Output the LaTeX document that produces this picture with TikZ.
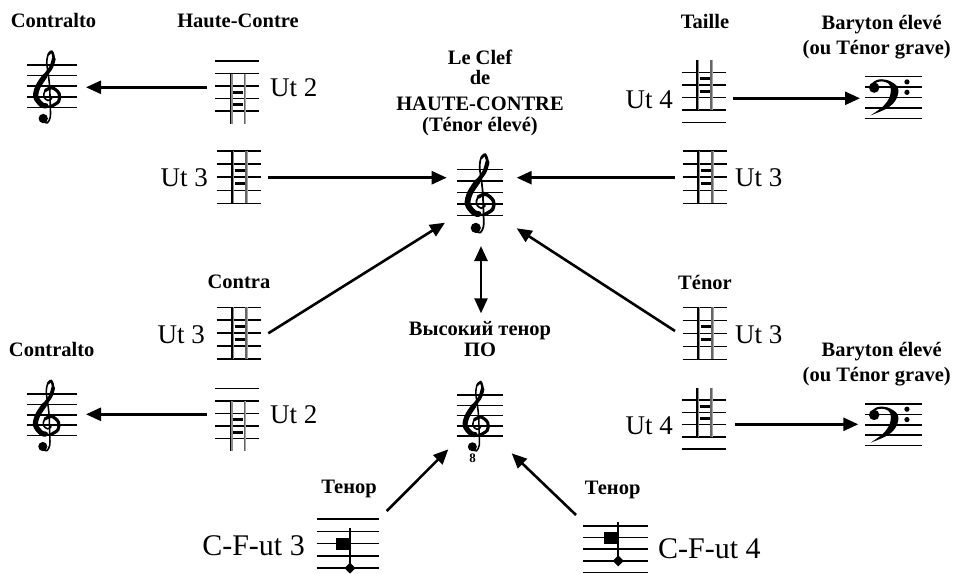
\documentclass[tikz,border=0pt]{standalone}
\usepackage{fontspec}
\setmainfont{Liberation Serif}
\usetikzlibrary{arrows.meta}

\tikzset{
  stl/.style={line width=1.5pt},
  arr/.style={line width=2.6pt, -{Triangle[length=15pt,width=13pt]}},
  darr/.style={line width=2.6pt, {Triangle[length=15pt,width=13pt]}-{Triangle[length=15pt,width=13pt]}},
  lab/.style={font=\fontsize{20.5}{24}\selectfont\bfseries, inner sep=0pt, anchor=base},
  ttl/.style={font=\fontsize{20.5}{24}\selectfont\bfseries, inner sep=0pt, anchor=base},
  ut/.style={font=\fontsize{27}{30}\selectfont, inner sep=0pt},
  cfut/.style={font=\fontsize{30}{33}\selectfont, inner sep=0pt},
}

% five staff lines: x0, x1, ytop, spacing
\newcommand{\fivelines}[4]{%
  \foreach \i in {0,...,4} \draw[stl] (#1,{#3+\i*#4}) -- (#2,{#3+\i*#4});}

% C clef ladder staff: x0, ytop, spacing, index of C line (from top, 0-based)
\newcommand{\ladder}[4]{%
  \pgfmathsetmacro\lyc{#2+#4*#3}%
  \fivelines{#1}{{#1+44}}{#2}{#3}%
  \draw[line width=1.3pt] ({#1+15.3},{\lyc-2*#3}) -- ({#1+15.3},{\lyc+2*#3});
  \draw[line width=1.2pt, black!45] ({#1+16.9},{\lyc-2*#3}) -- ({#1+16.9},{\lyc+2*#3});
  \draw[line width=1.2pt, black!60] ({#1+29.2},{\lyc-2*#3}) -- ({#1+29.2},{\lyc+2*#3});
  \draw[line width=1.0pt, black!35] ({#1+30.7},{\lyc-2*#3}) -- ({#1+30.7},{\lyc+2*#3});
  \draw[line width=3pt] ({#1+17.8},{\lyc-0.5*#3}) -- ({#1+28},{\lyc-0.5*#3});
  \draw[line width=3pt] ({#1+17.8},{\lyc+0.5*#3}) -- ({#1+28},{\lyc+0.5*#3});
}

% C-F-ut staff: x0, x1, ytop, spacing, C index, F index, stem x
\newcommand{\cfstaff}[7]{%
  \fivelines{#1}{#2}{#3}{#4}%
  \pgfmathsetmacro\lyc{#3+#5*#4}%
  \pgfmathsetmacro\lyf{#3+#6*#4}%
  \fill ({#7-14},{\lyc-6}) rectangle (#7,{\lyc+6});
  \draw[line width=1.7pt] (#7,{\lyc-15.5}) -- (#7,\lyf);
  \fill (#7,{\lyf-5.5}) -- ({#7+5.5},\lyf) -- (#7,{\lyf+5.5}) -- ({#7-5.5},\lyf) -- cycle;
}

% treble clef: x, y of G line, spacing
\newcommand{\gclef}[3]{%
  \begin{scope}[shift={(#1,#2)}, x=#3pt, y=#3pt, line cap=round]
    \draw[line width={0.15*#3pt}] plot[smooth, tension=0.55] coordinates {
      (0.35,-0.15) (0.0,-0.35) (-0.4,0.0) (-0.25,0.6) (0.4,0.85) (1.05,0.3) (1.0,-0.45)
      (0.3,-0.9) (-0.6,-0.75) (-1.15,0.0) (-0.95,0.95) (-0.3,1.95) (0.3,2.8) (0.55,3.6)
      (0.35,4.25) (0.0,3.95) (-0.12,3.2) (0.0,2.3) (0.15,1.0) (0.22,-1.0) (0.22,-1.9)
      (-0.05,-2.45) (-0.5,-2.3)};
    \draw[line width={0.3*#3pt}] plot[smooth, tension=0.55] coordinates {
      (-0.25,0.6) (0.4,0.85) (1.05,0.3) (1.0,-0.45) (0.3,-0.9)};
    \draw[line width={0.5*#3pt}] plot[smooth, tension=0.55] coordinates {
      (-0.2,-0.85) (-0.6,-0.75) (-1.15,0.0) (-0.95,0.95) (-0.3,1.95)};
    \draw[line width={0.36*#3pt}] plot[smooth, tension=0.55] coordinates {
      (-0.95,0.95) (-0.3,1.95) (0.3,2.8) (0.55,3.6)};
    \draw[line width={0.24*#3pt}] plot[smooth, tension=0.55] coordinates {
      (0.3,2.8) (0.55,3.6) (0.35,4.25) (0.05,4.0)};
    \fill (-0.45,-2.05) circle (0.44);
  \end{scope}}

% bass clef: x of head, y of F line, spacing
\newcommand{\fclef}[3]{%
  \begin{scope}[shift={(#1,#2)}, x=#3pt, y=#3pt]
    \fill (0.45,-0.05) circle (0.5);
    \fill plot[smooth, tension=0.6] coordinates {
      (0.0,0.15) (0.7,0.68) (1.7,0.68) (2.7,0.0) (2.6,-1.1) (1.75,-2.0) (0.1,-2.72)}
      -- plot[smooth, tension=0.6] coordinates {
      (0.1,-2.72) (1.3,-1.85) (1.95,-0.9) (2.0,0.1) (1.5,0.5) (0.8,0.5) (0.2,0.1)} -- cycle;
    \fill (3.6,0.5) circle (0.25);
    \fill (3.6,-0.5) circle (0.25);
  \end{scope}}

\begin{document}
\begin{tikzpicture}[x=1pt, y=-1pt]
\useasboundingbox (0,0) rectangle (953,573);
\fill[white] (0,0) rectangle (953,573);

% ---------- treble and bass clef staves ----------
\fivelines{27}{77}{65}{10.6}
\gclef{48}{96.8}{10.6}
\fivelines{26.7}{76.7}{394}{10.4}
\gclef{47.5}{425.2}{10.4}
\fivelines{457}{503}{169.3}{11.6}
\gclef{481}{204.1}{11.6}
\fivelines{456.7}{503.3}{395}{10.25}
\gclef{477}{425.75}{10.25}
\node[font=\fontsize{13}{13}\selectfont\bfseries, inner sep=0pt] (eight) at (472.5,458) {8};
\fivelines{865}{921.7}{76.7}{10.4}
\fclef{869.5}{87.1}{10.4}
\fivelines{865}{921.7}{404}{10.4}
\fclef{869.5}{414.4}{10.4}

% ---------- C clef ladders ----------
\ladder{215}{61}{12.5}{3}
\ladder{216.7}{151}{13.1}{2}
\ladder{682.7}{151}{13.1}{2}
\ladder{681.7}{72.3}{12.6}{1}
\ladder{216.7}{307.3}{12.9}{2}
\ladder{215}{388.3}{12.5}{3}
\ladder{682.7}{307.3}{13}{2}
\ladder{681.7}{400}{12.3}{1}

% ---------- C-F-ut staves ----------
\cfstaff{316.7}{379}{519}{12.3}{2}{4}{350}
\cfstaff{583.3}{648.3}{526}{11.6}{1}{3}{618.3}

% ---------- labels ----------
\node[lab] (lcontraltoA) at (53.5,27.7) {Contralto};
\node[lab] (lhc) at (238,27.7) {Haute-Contre};
\node[lab] (ltaille) at (705,28.3) {Taille};
\node[lab] (lbarA) at (881.7,29.3) {Baryton élevé};
\node[lab] (louA) at (876.7,54) {(ou Ténor grave)};
\node[ttl] (t1) at (480,64) {Le Clef};
\node[ttl] (t2) at (480,84.5) {de};
\node[ttl] (t3) at (480,110) {HAUTE-CONTRE};
\node[ttl] (t4) at (480,131.5) {(Ténor élevé)};
\node[lab] (lcontra) at (239,288.3) {Contra};
\node[lab] (ltenor) at (705,289) {Ténor};
\node[lab] (lcontraltoB) at (51.7,356) {Contralto};
\node[lab] (lbarB) at (881.7,356.7) {Baryton élevé};
\node[lab] (louB) at (876.7,381.7) {(ou Ténor grave)};
\node[ttl] (lvys) at (480,335) {Высокий тенор};
\node[ttl] (lpo) at (480,356.7) {ПО};
\node[lab] (ltenA) at (349,493.3) {Тенор};
\node[lab] (ltenB) at (612.7,494) {Тенор};

\node[ut, anchor=base west] (u1) at (270,96.7) {Ut 2};
\node[ut, anchor=base east] (u2) at (208,186.7) {Ut 3};
\node[ut, anchor=base west] (u3) at (735,186.7) {Ut 3};
\node[ut, anchor=base east] (u4) at (673,108) {Ut 4};
\node[ut, anchor=base east] (u5) at (205,343.5) {Ut 3};
\node[ut, anchor=base west] (u6) at (735,343.5) {Ut 3};
\node[ut, anchor=base west] (u7) at (270,423.5) {Ut 2};
\node[ut, anchor=base east] (u8) at (673,434) {Ut 4};
\node[cfut, anchor=base east] (c1) at (305,555) {C-F-ut 3};
\node[cfut, anchor=base west] (c2) at (658,558.5) {C-F-ut 4};

% ---------- connector ends ----------
\coordinate (hcOut) at (207,87.3);
\coordinate (contAIn) at (86,87.3);
\coordinate (ut3LOut) at (267.7,177.7);
\coordinate (centLIn) at (446.7,177.7);
\coordinate (ut3ROut) at (675,177.7);
\coordinate (centRIn) at (516.7,177.7);
\coordinate (tailOut) at (733,98.3);
\coordinate (barAIn) at (860,98.3);
\coordinate (contraOut) at (268.3,333.3);
\coordinate (centLLIn) at (445,222.7);
\coordinate (tenorOut) at (675,331);
\coordinate (centLRIn) at (516.7,228.3);
\coordinate (dTop) at (481,246);
\coordinate (dBot) at (481,313.3);
\coordinate (ut2BOut) at (206.7,414.3);
\coordinate (contBIn) at (86,414.3);
\coordinate (ut4BOut) at (735,424.3);
\coordinate (barBIn) at (858.3,424.3);
\coordinate (cf3Out) at (386.7,511);
\coordinate (octLIn) at (448.3,449.3);
\coordinate (cf4Out) at (576,515);
\coordinate (octRIn) at (511.7,453.3);

% ---------- connectors ----------
\draw[arr] (hcOut) -- (contAIn);
\draw[arr] (ut3LOut) -- (centLIn);
\draw[arr] (ut3ROut) -- (centRIn);
\draw[arr] (tailOut) -- (barAIn);
\draw[arr] (contraOut) -- (centLLIn);
\draw[arr] (tenorOut) -- (centLRIn);
\draw[darr] (dTop) -- (dBot);
\draw[arr] (ut2BOut) -- (contBIn);
\draw[arr] (ut4BOut) -- (barBIn);
\draw[arr] (cf3Out) -- (octLIn);
\draw[arr] (cf4Out) -- (octRIn);
\end{tikzpicture}
\end{document}
